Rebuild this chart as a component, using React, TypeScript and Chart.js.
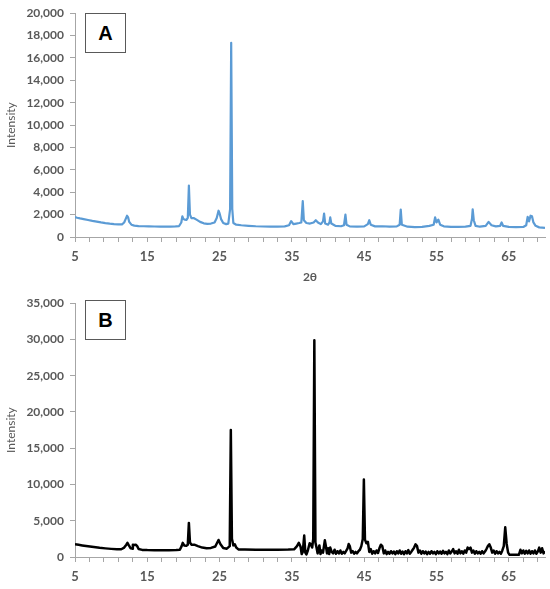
import React, { useEffect, useRef } from "react";
import { Chart, registerables } from "chart.js";

Chart.register(...registerables);

// ---------- data ----------
const xTickValues = [5, 7, 9, 11, 13, 15, 17, 19, 21, 23, 25, 27, 29, 31, 33, 35, 37, 39, 41, 43, 45, 47, 49, 51, 53, 55, 57, 59, 61, 63, 65, 67, 69];
const xLabelValues = [5, 15, 25, 35, 45, 55, 65];
const yTicksA = [0, 2000, 4000, 6000, 8000, 10000, 12000, 14000, 16000, 18000, 20000];
const yTicksB = [0, 5000, 10000, 15000, 20000, 25000, 30000, 35000];

// Pattern A: [2θ, intensity]
const patternA: [number, number][] = [
  [5.0, 1780], [5.3, 1720], [5.7, 1660], [6.2, 1600], [6.8, 1520], [7.4, 1440], [8.0, 1370],
  [8.6, 1300], [9.2, 1240], [9.8, 1190], [10.4, 1150], [11.0, 1120], [11.5, 1130], [11.8, 1300],
  [12.0, 1600], [12.2, 1900], [12.35, 1750], [12.5, 1350], [12.8, 1100], [13.2, 1020], [13.8, 980],
  [14.5, 960], [15.2, 950], [16.0, 940], [16.8, 930], [17.5, 940], [18.2, 930], [18.9, 950],
  [19.4, 980], [19.7, 1300], [19.85, 1850], [20.0, 1600], [20.2, 1550], [20.4, 1520], [20.6, 1700],
  [20.75, 4600], [20.9, 2000], [21.1, 1680], [21.4, 1700], [21.8, 1550], [22.3, 1350], [22.8, 1220],
  [23.3, 1180], [23.8, 1200], [24.3, 1300], [24.6, 1700], [24.85, 2350], [25.0, 2100], [25.2, 1600],
  [25.5, 1250], [25.9, 1150], [26.2, 1200], [26.45, 2500], [26.6, 17350], [26.75, 2500], [26.9, 1250],
  [27.3, 1100], [28.0, 1050], [29.0, 1000], [30.0, 960], [31.0, 940], [32.0, 930], [33.0, 930],
  [34.0, 950], [34.6, 1050], [34.9, 1420], [35.2, 1150], [35.6, 1200], [36.0, 1250], [36.3, 1300],
  [36.5, 3200], [36.65, 1500], [37.0, 1250], [37.5, 1200], [38.0, 1300], [38.3, 1500], [38.6, 1300],
  [39.0, 1150], [39.3, 1400], [39.45, 2100], [39.6, 1200], [40.0, 1100], [40.2, 1300], [40.3, 1750],
  [40.45, 1200], [41.0, 1000], [41.8, 960], [42.2, 1050], [42.4, 2000], [42.55, 1100], [43.0, 950],
  [44.0, 930], [45.0, 950], [45.5, 1150], [45.7, 1500], [45.9, 1100], [46.5, 950], [47.5, 960],
  [48.5, 920], [49.5, 950], [49.9, 1100], [50.05, 2450], [50.2, 1100], [51.0, 920], [52.0, 880],
  [53.0, 900], [54.0, 1000], [54.6, 1100], [54.8, 1750], [55.0, 1300], [55.25, 1550], [55.5, 1100],
  [56.0, 950], [57.0, 900], [58.0, 900], [59.0, 920], [59.7, 1000], [59.9, 1600], [60.0, 2480],
  [60.15, 1500], [60.4, 1000], [61.0, 920], [61.8, 1000], [62.2, 1350], [62.6, 1050], [63.2, 950],
  [63.8, 1000], [64.0, 1300], [64.2, 1000], [65.0, 900], [66.0, 880], [67.0, 900], [67.4, 1050],
  [67.6, 1800], [67.8, 1400], [68.0, 1900], [68.2, 1850], [68.4, 1300], [68.7, 1000], [69.2, 860],
  [70.0, 820],
];

// Pattern B: [2θ, intensity]
const patternB: [number, number][] = [
  [5.0, 1750], [5.5, 1680], [6.0, 1600], [6.8, 1480], [7.6, 1370], [8.4, 1270], [9.2, 1190],
  [10.0, 1120], [10.8, 1060], [11.4, 1070], [11.8, 1300], [12.1, 1700], [12.25, 1950], [12.45, 1600],
  [12.7, 1200], [12.9, 1150], [13.0, 1700], [13.2, 1650], [13.4, 1700], [13.6, 1500], [13.8, 1100],
  [14.3, 980], [15.0, 950], [16.0, 940], [17.0, 930], [18.0, 940], [19.0, 950], [19.5, 1000],
  [19.75, 1500], [19.9, 1950], [20.1, 1600], [20.4, 1550], [20.6, 1700], [20.75, 4700], [20.9, 2000],
  [21.1, 1700], [21.5, 1700], [22.0, 1500], [22.6, 1300], [23.2, 1200], [23.8, 1250], [24.4, 1450],
  [24.85, 2350], [25.1, 1800], [25.5, 1250], [26.0, 1150], [26.4, 1500], [26.55, 17500], [26.7, 2500],
  [26.9, 1600], [27.1, 1750], [27.3, 1300], [27.6, 1050], [28.5, 1020], [30.0, 1000], [31.5, 1000],
  [33.0, 1010], [34.5, 1020], [35.3, 1060], [35.7, 1500], [35.95, 1950], [36.2, 1400], [36.35, 400],
  [36.5, 700], [36.7, 2950], [36.85, 600], [37.0, 350], [37.2, 900], [37.45, 1900], [37.6, 1800],
  [37.8, 1300], [37.95, 2500], [38.1, 29900], [38.25, 2000], [38.4, 1300], [38.55, 500], [38.8, 1600],
  [38.95, 400], [39.1, 900], [39.3, 600], [39.55, 2300], [39.7, 1500], [39.85, 500], [40.0, 1200],
  [40.15, 400], [40.3, 1300], [40.5, 700], [40.7, 500], [40.9, 1000], [41.1, 450], [41.3, 800],
  [41.5, 500], [41.7, 900], [41.9, 450], [42.1, 700], [42.3, 500], [42.5, 850], [42.7, 1200],
  [42.85, 1800], [43.0, 1500], [43.2, 600], [43.4, 800], [43.6, 450], [43.8, 700], [44.0, 500],
  [44.2, 800], [44.4, 1000], [44.6, 1500], [44.8, 2500], [44.95, 10700], [45.1, 2400], [45.3, 1900],
  [45.5, 2100], [45.7, 700], [45.9, 1100], [46.1, 450], [46.3, 800], [46.5, 500], [46.7, 900],
  [46.9, 550], [47.1, 1200], [47.3, 1700], [47.5, 1500], [47.7, 500], [47.9, 900], [48.1, 400],
  [48.3, 700], [48.5, 450], [48.7, 800], [48.9, 500], [49.1, 750], [49.3, 400], [49.5, 800],
  [49.7, 500], [49.9, 900], [50.1, 450], [50.3, 750], [50.5, 400], [50.7, 800], [50.9, 500],
  [51.1, 950], [51.3, 450], [51.5, 700], [51.7, 1000], [51.9, 1300], [52.1, 1750], [52.3, 1500],
  [52.5, 600], [52.7, 900], [52.9, 450], [53.1, 800], [53.3, 500], [53.5, 750], [53.7, 400],
  [53.9, 700], [54.1, 450], [54.3, 800], [54.5, 500], [54.7, 700], [54.9, 400], [55.1, 800],
  [55.3, 500], [55.5, 750], [55.7, 450], [55.9, 850], [56.1, 500], [56.3, 700], [56.5, 400],
  [56.7, 900], [56.9, 500], [57.1, 750], [57.3, 1100], [57.5, 500], [57.7, 800], [57.9, 450],
  [58.1, 1000], [58.3, 500], [58.5, 800], [58.7, 450], [58.9, 900], [59.1, 600], [59.3, 1300],
  [59.5, 1100], [59.7, 1300], [59.9, 600], [60.1, 900], [60.3, 450], [60.5, 800], [60.7, 500],
  [60.9, 700], [61.1, 450], [61.3, 800], [61.5, 500], [61.7, 750], [61.9, 1100], [62.1, 1500],
  [62.3, 1750], [62.5, 1300], [62.7, 600], [62.9, 900], [63.1, 450], [63.3, 800], [63.5, 500],
  [63.7, 700], [63.9, 450], [64.1, 900], [64.3, 1500], [64.5, 4100], [64.7, 1800], [64.9, 600],
  [65.1, 300], [65.5, 320], [66.0, 300], [66.4, 320], [66.6, 1000], [66.8, 500], [67.0, 900],
  [67.2, 450], [67.4, 850], [67.6, 500], [67.8, 900], [68.0, 450], [68.2, 800], [68.4, 500],
  [68.6, 900], [68.8, 450], [69.0, 750], [69.2, 1300], [69.4, 600], [69.6, 1200], [69.8, 500],
  [70.0, 800],
];

// ---------- styling ----------
const FONT = 'Lato, "DejaVu Sans", sans-serif';
const TEXT = "#595959";
const AXIS = "#A6A6A6";

type PanelProps = {
  letter: string;
  data: [number, number][];
  color: string;
  lineWidth: number;
  yTicks: number[];
  height: number;
  padTop: number;
  xAxisHeight: number;
  showXTitle: boolean;
};

function Panel(p: PanelProps) {
  const ref = useRef<HTMLCanvasElement | null>(null);
  useEffect(() => {
    if (!ref.current) return;
    const yMax = p.yTicks[p.yTicks.length - 1];
    const chart = new Chart(ref.current, {
      type: "line",
      data: {
        datasets: [
          {
            data: p.data.map(([x, y]) => ({ x, y })),
            borderColor: p.color,
            borderWidth: p.lineWidth,
            pointRadius: 0,
            tension: 0,
            fill: false,
            borderJoinStyle: "round",
          },
        ],
      },
      options: {
        animation: false,
        responsive: false,
        maintainAspectRatio: false,
        layout: { padding: { top: p.padTop, right: 5, left: 0, bottom: 0 } },
        plugins: { legend: { display: false }, tooltip: { enabled: false } },
        scales: {
          x: {
            type: "linear",
            min: 5,
            max: 70,
            afterBuildTicks: (s: any) => {
              s.ticks = xTickValues.map((v) => ({ value: v }));
            },
            afterFit: (s: any) => {
              s.height = p.xAxisHeight;
            },
            ticks: {
              autoSkip: false,
              maxRotation: 0,
              padding: 7,
              color: TEXT,
              font: { family: FONT, size: 13, weight: "bold" },
              callback: (v: any) => (xLabelValues.includes(Number(v)) ? String(v) : ""),
            },
            grid: { drawOnChartArea: false, drawTicks: true, tickLength: 5, color: AXIS },
            border: { display: true, color: AXIS, width: 1 },
            title: {
              display: p.showXTitle,
              text: "2θ",
              color: TEXT,
              font: { family: FONT, size: 12, weight: "bold" },
              padding: { top: 0, bottom: 6 },
            },
          },
          y: {
            type: "linear",
            min: 0,
            max: yMax,
            afterBuildTicks: (s: any) => {
              s.ticks = p.yTicks.map((v) => ({ value: v }));
            },
            afterFit: (s: any) => {
              s.width = 75;
            },
            ticks: {
              padding: 6,
              color: TEXT,
              font: { family: FONT, size: 12, weight: "bold" },
              callback: (v: any) => Number(v).toLocaleString("en-US"),
            },
            grid: { drawOnChartArea: false, drawTicks: true, tickLength: 5, color: AXIS },
            border: { display: true, color: AXIS, width: 1 },
            title: {
              display: true,
              text: "Intensity",
              color: TEXT,
              font: { family: FONT, size: 12 },
              padding: { top: 4, bottom: 0 },
            },
          },
        },
      },
    } as any);
    return () => chart.destroy();
  }, []);

  return (
    <div style={{ position: "relative", width: 550, height: p.height }}>
      <canvas ref={ref} width={550} height={p.height} style={{ display: "block", width: 550, height: p.height }} />
      <div
        style={{
          position: "absolute",
          left: 85,
          top: p.padTop + 3,
          width: 41,
          height: 40,
          boxSizing: "border-box",
          border: "1.5px solid #595959",
          background: "#fff",
          display: "flex",
          alignItems: "center",
          justifyContent: "center",
          fontFamily: '"Liberation Sans", Arial, sans-serif',
          fontWeight: "bold",
          fontSize: 20,
          color: "#000",
        }}
      >
        {p.letter}
      </div>
    </div>
  );
}

export default function App() {
  return (
    <div style={{ position: "absolute", left: 0, top: 0, width: 550, height: 589, background: "#fff" }}>
      <Panel letter="A" data={patternA} color="#5B9BD5" lineWidth={2.2} yTicks={yTicksA} height={290} padTop={10} xAxisHeight={53} showXTitle={true} />
      <Panel letter="B" data={patternB} color="#000000" lineWidth={2.5} yTicks={yTicksB} height={299} padTop={7} xAxisHeight={32} showXTitle={false} />
    </div>
  );
}
